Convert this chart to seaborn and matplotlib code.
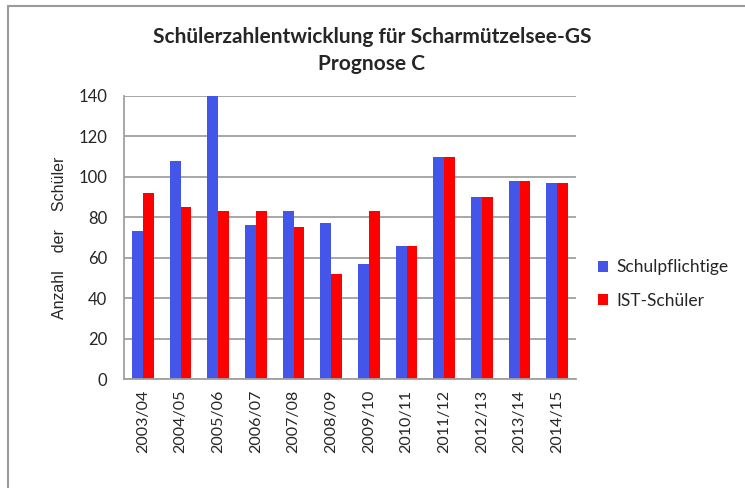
import matplotlib
matplotlib.use("Agg")
import matplotlib.pyplot as plt
import seaborn as sns
import pandas as pd
from matplotlib.lines import Line2D
from matplotlib.patches import Patch

# --- data ---
years = ["2003/04", "2004/05", "2005/06", "2006/07", "2007/08", "2008/09",
         "2009/10", "2010/11", "2011/12", "2012/13", "2013/14", "2014/15"]
schulpflichtige = [73, 108, 140, 76, 83, 77, 57, 66, 110, 90, 98, 97]
ist_schueler = [92, 85, 83, 83, 75, 52, 83, 66, 110, 90, 98, 97]
series_names = ["Schulpflichtige", "IST-Schüler"]
colors = ["#4455EA", "#FF0000"]
y_ticks = [0, 20, 40, 60, 80, 100, 120, 140]

df = pd.DataFrame({
    "Jahr": years * 2,
    "Anzahl": schulpflichtige + ist_schueler,
    "Reihe": [series_names[0]] * len(years) + [series_names[1]] * len(years),
})

sns.set_style("white")
plt.rcParams["font.family"] = ["Lato", "DejaVu Sans"]

fig = plt.figure(figsize=(7.45, 4.88), dpi=100)
ax = fig.add_axes([124 / 745, 109 / 488, 452 / 745, 283 / 488])

sns.barplot(data=df, x="Jahr", y="Anzahl", hue="Reihe", palette=colors,
            width=0.58, gap=0, saturation=1, linewidth=0, ax=ax, legend=False)

ax.set_ylim(0, 140)
ax.set_yticks(y_ticks)
ax.set_xlim(-0.5, len(years) - 0.5)
ax.yaxis.grid(True, color="#A0A0A0", linewidth=1.3)
ax.set_axisbelow(True)
for side in ["top", "right"]:
    ax.spines[side].set_visible(False)
for side in ["left", "bottom"]:
    ax.spines[side].set_color("#A0A0A0")
    ax.spines[side].set_linewidth(1.3)
ax.tick_params(axis="both", length=0, labelsize=12, pad=12)
ax.tick_params(axis="x", pad=8, labelsize=11.5)
plt.setp(ax.get_xticklabels(), rotation=90)
ax.set_xlabel("")
ax.set_ylabel("Anzahl    der    Schüler", fontsize=11.5,
              family=["Liberation Sans", "DejaVu Sans"], labelpad=8)

fig.text(372 / 745, 1 - 37 / 488, "Schülerzahlentwicklung für Scharmützelsee-GS",
         ha="center", va="center", fontsize=15, fontweight="bold")
fig.text(372 / 745, 1 - 64 / 488, "Prognose C",
         ha="center", va="center", fontsize=15, fontweight="bold")

handles = [Patch(facecolor=c, edgecolor="none") for c in colors]
fig.legend(handles, series_names, loc="center left",
           bbox_to_anchor=(582 / 745, 1 - 284 / 488), frameon=False,
           fontsize=12.5, handlelength=0.6, handleheight=0.6,
           handletextpad=0.5, labelspacing=1.0)

# chart area border (top and left edges visible)
fig.add_artist(Line2D([8 / 745, 1], [1 - 6 / 488, 1 - 6 / 488],
                      transform=fig.transFigure, color="#9A9A9A", linewidth=1.5))
fig.add_artist(Line2D([8 / 745, 8 / 745], [0, 1 - 6 / 488],
                      transform=fig.transFigure, color="#9A9A9A", linewidth=1.5))

fig.savefig("out.png", dpi=100)
plt.close(fig)
